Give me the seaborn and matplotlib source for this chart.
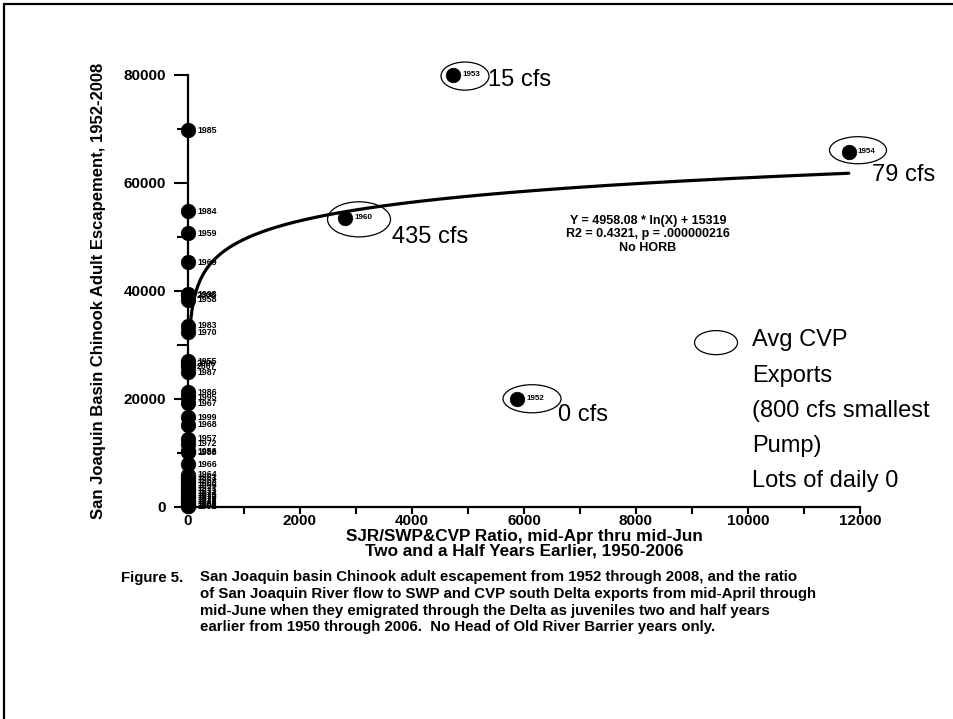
import numpy as np
import pandas as pd
import matplotlib
matplotlib.use("Agg")
import matplotlib.pyplot as plt
from matplotlib.patches import Ellipse
from matplotlib.lines import Line2D
import seaborn as sns

# ---------------- data ----------------
years = ["1985", "1984", "1959", "1969", "1998", "2008", "1958", "1983", "1970",
         "1955", "2006", "2007", "1987", "1986", "1995", "1967", "1999", "1968",
         "1957", "1972", "1956", "1988", "1966", "1964", "1961", "1962", "1963",
         "1965", "1971", "1973", "1974", "1975", "1976", "1977", "1979", "1980",
         "1981", "1990", "1991",
         "1952", "1953", "1954", "1960"]
ratio = [4.1, 3.2, 6.0, 5.5, 2.8, 3.6, 7.2, 4.4, 6.3,
         5.1, 3.9, 2.5, 6.8, 4.7, 3.3, 5.9, 2.9, 4.2,
         6.5, 3.1, 5.3, 4.8, 7.4, 3.5, 5.6, 2.7, 4.9,
         6.1, 3.8, 5.2, 2.6, 4.3, 6.7, 3.4, 5.8, 4.6,
         2.4, 3.7, 5.0,
         5875, 4732, 11800, 2804]
escapement = [69800, 54800, 50700, 45300, 39400, 39200, 38400, 33600, 32350,
              27000, 26500, 26040, 24930, 21220, 20290, 19180, 16580, 15220,
              12680, 11750, 10350, 10150, 7920, 5940, 5400, 4900, 4400,
              3900, 3400, 2900, 2500, 2100, 1700, 1300, 1000, 700,
              450, 250, 120,
              20000, 80000, 65800, 53600]
highlighted = ["1952", "1953", "1954", "1960"]

# fitted curve reported on the chart: Y = a * ln(X) + b
fit_slope = 4958.08
fit_intercept = 15319
fit_x_range = [40, 11800]

x_ticks = [0, 2000, 4000, 6000, 8000, 10000, 12000]
x_tick_labels = ["0", "2000", "4000", "6000", "8000", "10000", "12000"]
y_ticks = [0, 20000, 40000, 60000, 80000]
y_tick_labels = ["0", "20000", "40000", "60000", "80000"]

# callout ellipses (center x, center y, width, height) in data units
ell_centers_x = [6143, 4946, 11964, 3054, 9429]
ell_centers_y = [20045, 79800, 66070, 53270, 30438]
ell_widths = [1036, 857, 1018, 1125, 768]
ell_heights = [5197, 5200, 5011, 6496, 4454]

cfs_texts = ["0 cfs", "15 cfs", "79 cfs", "435 cfs"]
cfs_x = [6607, 5357, 12214, 3643]
cfs_y = [17075, 79065, 61433, 49926]

note_lines = ["Avg CVP", "Exports", "(800 cfs smallest", "Pump)", "Lots of daily 0"]

equation_text = ("Y = 4958.08 * ln(X) + 15319\n"
                 "R2 = 0.4321, p = .000000216\n"
                 "No HORB")

x_label = "SJR/SWP&CVP Ratio, mid-Apr thru mid-Jun\nTwo and a Half Years Earlier, 1950-2006"
y_label = "San Joaquin Basin Chinook Adult Escapement, 1952-2008"
caption_head = "Figure 5."
caption_body = ("San Joaquin basin Chinook adult escapement from 1952 through 2008, and the ratio\n"
                "of San Joaquin River flow to SWP and CVP south Delta exports from mid-April through\n"
                "mid-June when they emigrated through the Delta as juveniles two and half years\n"
                "earlier from 1950 through 2006.  No Head of Old River Barrier years only.")

df = pd.DataFrame({"year": years, "ratio": ratio, "esc": escapement})
df["hl"] = df["year"].isin(highlighted)

# ---------------- style ----------------
sns.set_style("ticks")
plt.rcParams["font.family"] = ["Liberation Sans", "DejaVu Sans"]
plt.rcParams["font.weight"] = "bold"
for k in ["text.color", "axes.labelcolor", "xtick.color", "ytick.color", "axes.edgecolor"]:
    plt.rcParams[k] = "black"

W, H = 954, 719
fig = plt.figure(figsize=(W / 100, H / 100), dpi=100)
fig.patch.set_facecolor("white")
ax = fig.add_axes([188 / W, 1 - 507 / H, (860 - 188) / W, (507 - 75) / H])
ax.set_facecolor("white")

# fitted curve
fx = np.geomspace(fit_x_range[0], fit_x_range[1], 400)
fy = fit_slope * np.log(fx) + fit_intercept
sns.lineplot(x=fx, y=fy, ax=ax, color="black", lw=2.3, zorder=3, estimator=None, sort=False)

# points
sns.scatterplot(data=df, x="ratio", y="esc", ax=ax, s=110, color="black",
                edgecolor="black", linewidth=0.5, zorder=5, clip_on=False, legend=False)

for _, r in df.iterrows():
    ax.annotate(r["year"], (r["ratio"], r["esc"]), xytext=(9, 0),
                textcoords="offset pixels", va="center", ha="left",
                fontsize=6.3 if not r["hl"] else 5.8, fontweight="bold",
                color="black", zorder=6, annotation_clip=False)

for cx, cy, w, h in zip(ell_centers_x, ell_centers_y, ell_widths, ell_heights):
    ax.add_patch(Ellipse((cx, cy), w, h, fill=False, ec="black", lw=0.9,
                         clip_on=False, zorder=4))

for t, x, y in zip(cfs_texts, cfs_x, cfs_y):
    ax.text(x, y, t, fontsize=17, fontweight="normal", va="center", ha="left",
            color="black", clip_on=False)

note_y_px = [340, 376, 411, 446, 481]
for line, ypx in zip(note_lines, note_y_px):
    fig.text(752 / W, 1 - ypx / H, line, fontsize=17, fontweight="normal",
             va="center", ha="left", color="black")

ax.text(8214, 50483, equation_text, fontsize=9, fontweight="bold", color="black",
        ha="center", va="center", multialignment="center", linespacing=1.15)

# axes formatting
ax.set_xlim(0, 12000)
ax.set_ylim(0, 80000)
ax.set_xticks(x_ticks)
ax.set_xticklabels(x_tick_labels, fontsize=11, fontweight="bold")
ax.set_yticks(y_ticks)
ax.set_yticklabels(y_tick_labels, fontsize=11, fontweight="bold")
ax.set_xticks(np.arange(0, 12001, 1000), minor=True)
ax.set_yticks(np.arange(0, 80001, 10000), minor=True)
ax.tick_params(axis="x", which="both", direction="out", length=5, width=1.5,
               color="black", pad=0)
ax.tick_params(axis="y", which="major", direction="out", length=10, width=1.5,
               color="black", pad=6)
ax.tick_params(axis="y", which="minor", direction="out", length=8, width=1.5,
               color="black")
for s in ["top", "right"]:
    ax.spines[s].set_visible(False)
for s in ["left", "bottom"]:
    ax.spines[s].set_linewidth(1.6)
    ax.spines[s].set_color("black")

ax.set_xlabel(x_label, fontsize=12.3, fontweight="bold", linespacing=0.95)
ax.xaxis.set_label_coords(0.5, -0.050)
ax.set_ylabel(y_label, fontsize=12, fontweight="bold")
ax.yaxis.set_label_coords(-0.122, 0.5)

fig.text(121 / W, 1 - 578 / H, caption_head, fontsize=10.8, fontweight="bold",
         va="center", ha="left", color="black")
fig.text(200 / W, 1 - 570 / H, caption_body, fontsize=10.8, fontweight="bold",
         va="top", ha="left", linespacing=1.25, color="black")

# page frame (top and left edges)
fig.add_artist(Line2D([4 / W, 4 / W], [0, 1 - 4 / H], color="black", lw=1.6,
                      transform=fig.transFigure))
fig.add_artist(Line2D([4 / W, 1], [1 - 4 / H, 1 - 4 / H], color="black", lw=1.6,
                      transform=fig.transFigure))

fig.savefig("out.png", dpi=100, facecolor="white")
